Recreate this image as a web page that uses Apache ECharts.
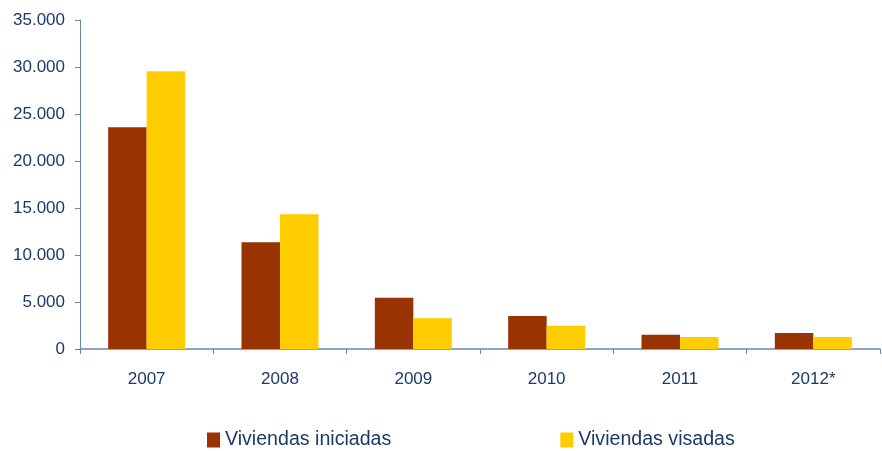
<!DOCTYPE html>
<html><head><meta charset="utf-8">
<script src="https://cdn.jsdelivr.net/npm/echarts@6/dist/echarts.min.js"></script>
<style>html,body{margin:0;padding:0;background:#fff}#c{width:882px;height:451px}</style>
</head><body><div id="c"></div>
<script>
const categories = ['2007','2008','2009','2010','2011','2012*'];
const iniciadas = [23600, 11350, 5450, 3500, 1520, 1700];
const visadas = [29550, 14330, 3270, 2480, 1280, 1280];
const yTicks = [0, 5000, 10000, 15000, 20000, 25000, 30000, 35000];
const seriesNames = ['Viviendas iniciadas', 'Viviendas visadas'];

const txt = '#1B3A66';
const axisCol = '#6A88A8';
const chart = echarts.init(document.getElementById('c'));
chart.setOption({
  animation: false,
  textStyle: {fontFamily: 'Liberation Sans, Arial, sans-serif'},
  grid: {left: 80, right: 2, top: 20, bottom: 102},
  legend: {
    left: 207, top: 430, padding: 0, itemWidth: 13, itemHeight: 15, itemGap: 169,
    icon: 'rect',
    textStyle: {fontSize: 19.6, color: txt, fontFamily: 'Liberation Sans, Arial, sans-serif'},
    data: seriesNames
  },
  xAxis: {
    type: 'category', data: categories,
    axisLine: {lineStyle: {color: axisCol, width: 1.5}},
    axisTick: {show: true, length: 5, lineStyle: {color: axisCol}},
    axisLabel: {fontSize: 17, color: txt, margin: 22}
  },
  yAxis: {
    type: 'value', min: 0, max: yTicks[yTicks.length-1], interval: yTicks[1]-yTicks[0],
    splitLine: {show: false},
    axisLine: {show: true, lineStyle: {color: axisCol}},
    axisTick: {show: true, length: 5, lineStyle: {color: axisCol}},
    axisLabel: {fontSize: 17, color: txt, margin: 15,
      formatter: v => v === 0 ? '0' : String(v).replace(/\B(?=(\d{3})+(?!\d))/g, '.')}
  },
  series: [
    {name: seriesNames[0], type: 'bar', data: iniciadas, barWidth: 38.5, barGap: '0%', itemStyle: {color: '#993300'}},
    {name: seriesNames[1], type: 'bar', data: visadas, barWidth: 38.5, barGap: '0%', itemStyle: {color: '#FFCC00'}}
  ]
});
</script></body></html>
